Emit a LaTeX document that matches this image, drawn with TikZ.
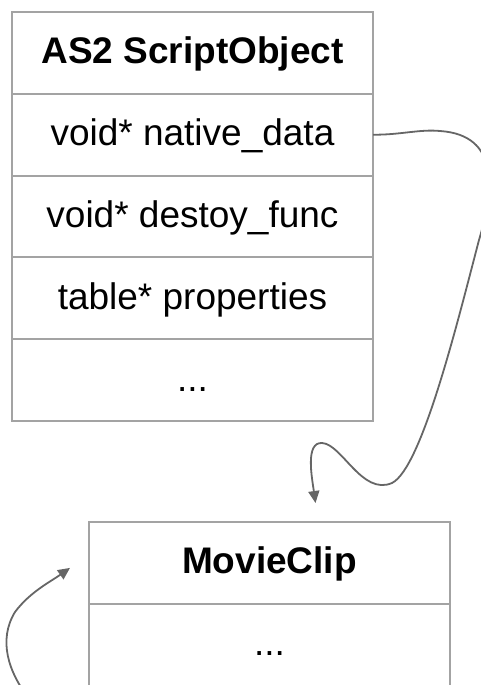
\documentclass[tikz,border=0pt]{standalone}
\usepackage{fontspec}
\setmainfont{Liberation Sans}
\usetikzlibrary{positioning,arrows.meta}
\definecolor{boxgray}{HTML}{A3A3A3}
\definecolor{linkgray}{HTML}{666666}

\begin{document}
\begin{tikzpicture}[x=1pt,y=-1pt,
		field/.style={rectangle,draw=boxgray,line width=2pt,outer sep=0pt,inner sep=0pt,
			minimum width=361pt,minimum height=81.8pt,text height=28pt,text depth=6pt,
			font=\fontsize{37}{42}\selectfont},
		title field/.style={field,font=\fontsize{37}{42}\selectfont\bfseries},
		link/.style={draw=linkgray,line width=1.8pt,-{Triangle[length=12pt,width=11pt]}}]
		\useasboundingbox (0,0) rectangle (481,685);
		\node[title field] (obj) at (192.5,52.9) {AS2 ScriptObject};
		\node[field] (data) [below=0pt of obj] {void* native\_data};
		\node[field] (destroy) [below=0pt of data] {void* destoy\_func};
		\node[field] (props) [below=0pt of destroy] {table* properties};
		\node[field] (objrest) [below=0pt of props] {...};

		\node[title field] (clip) at (269.5,562.9) {MovieClip};
		\node[field,minimum height=100pt,text depth=25pt] (cliprest) [below=0pt of clip] {...};

		\coordinate (clipin) at ([xshift=46pt,yshift=19pt]clip.north);
		\coordinate (loopin) at ([xshift=-19pt,yshift=-5pt]clip.west);
		\coordinate (loopout) at (30,700);

		\path[link] (data.east) .. controls (400,135) and (420,129) .. (440,131)
			.. controls (500,135) and (494,190) .. (479,240)
			.. controls (458,320) and (422,468) .. (392,483)
			.. controls (362,496) and (342,444) .. (322,443)
			.. controls (305,442) and (312,478) .. (clipin);
		\path[link] (loopout) .. controls (8,672) and (-2,640) .. (15,612)
			.. controls (30,592) and (50,582) .. (loopin);
\end{tikzpicture}
\end{document}
